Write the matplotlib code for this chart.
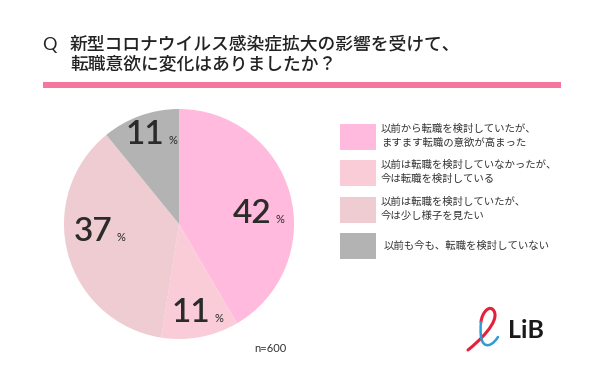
import matplotlib
matplotlib.use("Agg")
import matplotlib.pyplot as plt
import numpy as np
from matplotlib.patches import Rectangle, PathPatch
from matplotlib.path import Path

plt.rcParams['font.family'] = ['Noto Sans CJK JP', 'DejaVu Sans']

title_lines = ["新型コロナウイルス感染症拡大の影響を受けて、", "転職意欲に変化はありましたか？"]
categories = ["以前から転職を検討していたが、\nますます転職の意欲が高まった",
              "以前は転職を検討していなかったが、\n今は転職を検討している",
              "以前は転職を検討していたが、\n今は少し様子を見たい",
              "以前も今も、転職を検討していない"]
values = [42, 11, 37, 11]
colors = ["#FFBADD", "#F9CCD8", "#EFCBD2", "#B3B3B3"]
sample_note = "n=600"

W, H = 600, 383
fig = plt.figure(figsize=(6, 3.83), dpi=100)
fig.patch.set_facecolor("white")

# Pie
cx, cy, r = 179, 224, 115
pax = fig.add_axes([(cx - r) / W, (H - cy - r) / H, 2 * r / W, 2 * r / H])
pax.pie(values, colors=colors, startangle=90, counterclock=False,
        wedgeprops=dict(linewidth=0))
pax.set_xlim(-1, 1)
pax.set_ylim(-1, 1)
pax.set_aspect("auto")
pax.axis("off")

# overlay axes in pixel coordinates (on top)
bg = fig.add_axes([0, 0, 1, 1], zorder=5)
bg.set_xlim(0, W)
bg.set_ylim(H, 0)
bg.axis("off")
bg.patch.set_alpha(0)

# Title
bg.text(42, 45, "Q", fontsize=13, color="#222222", va="center", ha="left", family=["Lato", "DejaVu Sans"])
bg.text(70, 44, title_lines[0], fontsize=12.8, color="#222222", va="center", ha="left", fontweight="medium")
bg.text(70, 64, title_lines[1], fontsize=12.8, color="#222222", va="center", ha="left", fontweight="medium")
bg.add_patch(Rectangle((43, 82), 518, 6, color="#F5769F", lw=0))

# percentage labels (pixel positions of label anchors)
label_pos = [(252, 214), (191, 313), (93, 232), (145, 135)]
numfont = ["Lato", "DejaVu Sans"]
for v, (lx, ly) in zip(values, label_pos):
    t = bg.text(lx, ly, str(v), fontsize=24, color="#2b2b2b", ha="center", va="center",
                family=numfont, fontweight="semibold")
    bg.annotate("%", xy=(1, 0), xycoords=t, xytext=(3, 3), textcoords="offset points",
                fontsize=8, color="#2b2b2b", ha="left", va="bottom", family=numfont)

bg.text(270, 348, sample_note, fontsize=8, color="#333333", ha="center", va="center",
        family=["Lato", "DejaVu Sans"])

# Legend
box_tops = [124, 160, 197, 233]
for cat, col, top in zip(categories, colors, box_tops):
    bg.add_patch(Rectangle((340, top), 36, 26, color=col, lw=0))
    lines = cat.split("\n")
    if len(lines) == 2:
        bg.text(381, top + 5, lines[0], fontsize=7.5, color="#333333", va="center", ha="left")
        bg.text(381, top + 19, lines[1], fontsize=7.5, color="#333333", va="center", ha="left")
    else:
        bg.text(384, top + 13, lines[0], fontsize=7.5, color="#333333", va="center", ha="left")

# Logo mark (cursive l)
red = Path([(468, 350), (478, 342), (500, 322), (494, 311), (490, 304), (482, 312), (481, 322)],
           [Path.MOVETO, Path.CURVE4, Path.CURVE4, Path.CURVE4, Path.CURVE4, Path.CURVE4, Path.CURVE4])
blue = Path([(481, 322), (480, 332), (480, 347), (489, 345), (493, 344), (496, 340), (498, 337)],
            [Path.MOVETO, Path.CURVE4, Path.CURVE4, Path.CURVE4, Path.CURVE4, Path.CURVE4, Path.CURVE4])
bg.add_patch(PathPatch(red, fill=False, edgecolor="#E5203A", lw=2.2, capstyle="round"))
bg.add_patch(PathPatch(blue, fill=False, edgecolor="#2D9CD7", lw=1.8, capstyle="round"))
bg.text(508, 331, "LiB", fontsize=18, fontweight="bold", color="#1a1a1a", ha="left", va="center",
        family=["Lato", "DejaVu Sans"])

fig.savefig("out.png", dpi=100, facecolor="white")
